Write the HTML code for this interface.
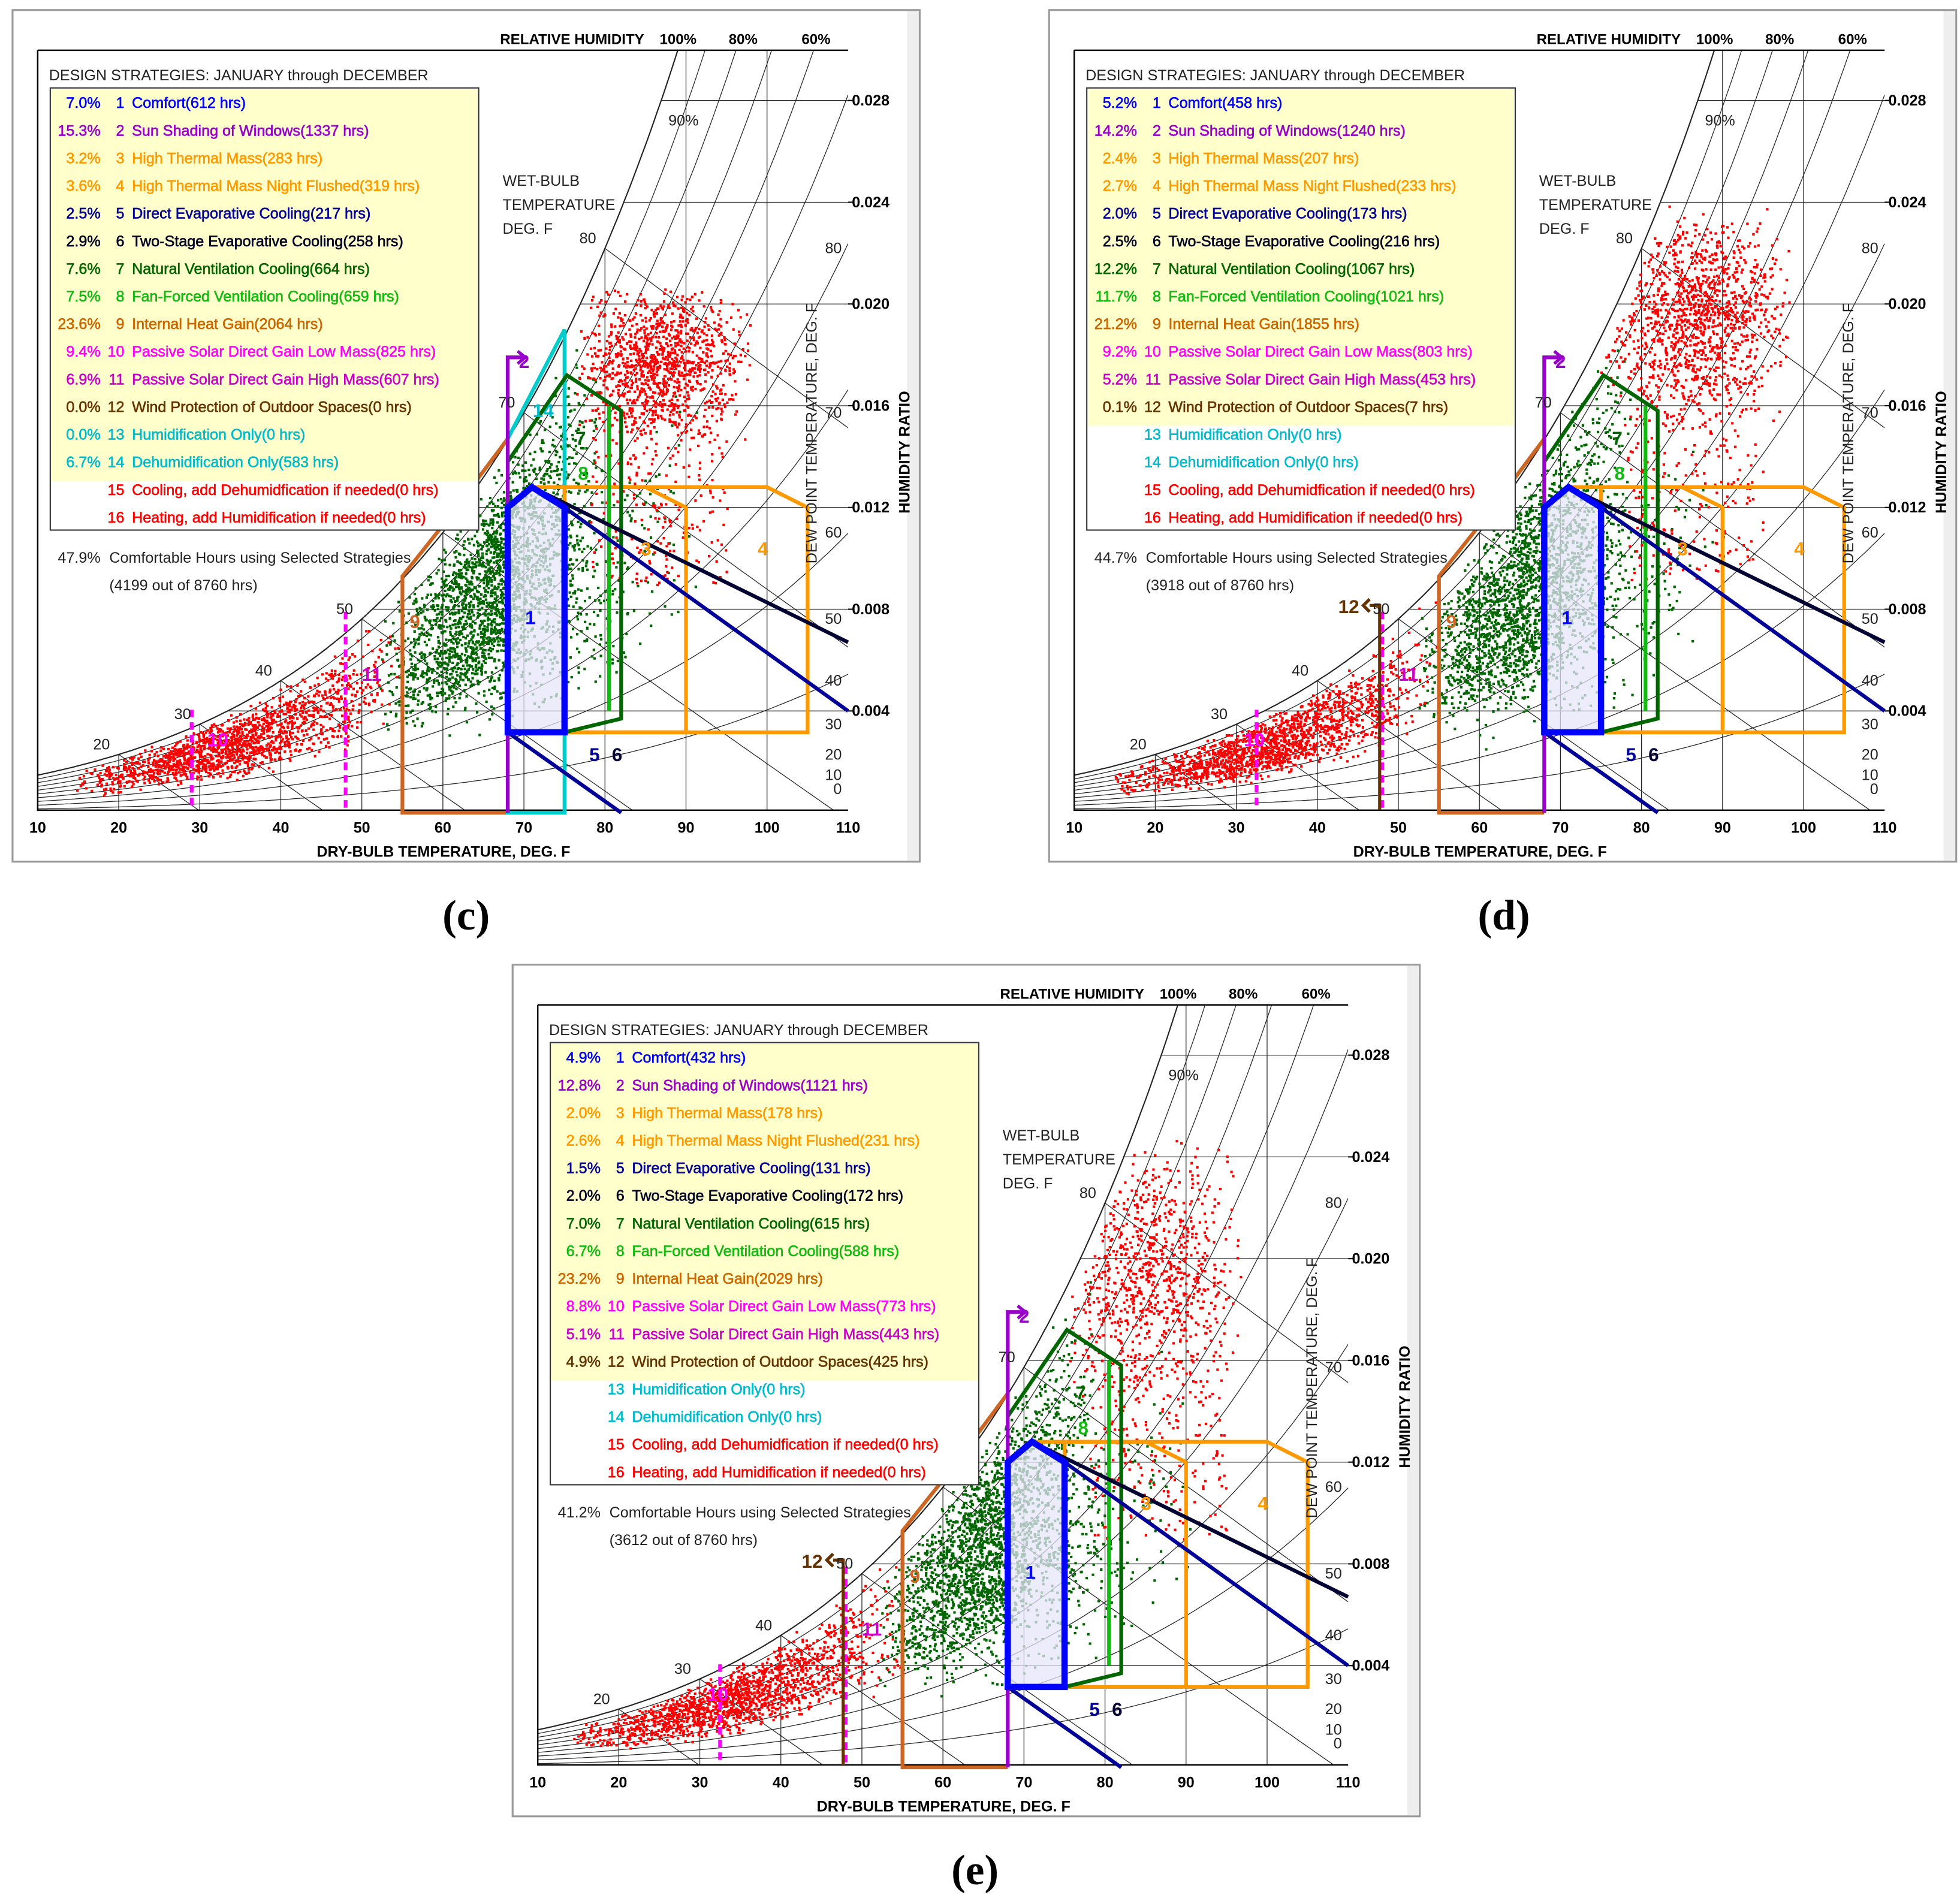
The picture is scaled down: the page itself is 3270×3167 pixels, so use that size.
<!DOCTYPE html>
<html><head><meta charset="utf-8"><title>Psychrometric design strategies</title>
<style>
html,body{margin:0;padding:0;background:#fff;}
svg{display:block;}
text{font-family:"Liberation Sans",Arial,sans-serif;}
</style></head>
<body>
<svg id="root" xmlns="http://www.w3.org/2000/svg" width="3270" height="3167" viewBox="0 0 1560 1511" preserveAspectRatio="none">
<rect x="0" y="0" width="1560" height="1511" fill="#fff"/>
</svg>
<script>
// ---------- data ----------
const strategyNames = ["Comfort","Sun Shading of Windows","High Thermal Mass","High Thermal Mass Night Flushed","Direct Evaporative Cooling","Two-Stage Evaporative Cooling","Natural Ventilation Cooling","Fan-Forced Ventilation Cooling","Internal Heat Gain","Passive Solar Direct Gain Low Mass","Passive Solar Direct Gain High Mass","Wind Protection of Outdoor Spaces","Humidification Only","Dehumidification Only","Cooling, add Dehumidfication if needed","Heating, add Humidification if needed"];
const strategyColors = ["#0000ff","#9900cc","#ff9900","#ff9900","#000099","#000022","#006600","#11bb11","#cc6600","#ff00ff","#cc00cc","#663300","#00bbcc","#00bbcc","#ff0000","#ff0000"];
const pctC = ["7.0%","15.3%","3.2%","3.6%","2.5%","2.9%","7.6%","7.5%","23.6%","9.4%","6.9%","0.0%","0.0%","6.7%","",""];
const hrsC = [612,1337,283,319,217,258,664,659,2064,825,607,0,0,583,0,0];
const pctD = ["5.2%","14.2%","2.4%","2.7%","2.0%","2.5%","12.2%","11.7%","21.2%","9.2%","5.2%","0.1%","","","",""];
const hrsD = [458,1240,207,233,173,216,1067,1021,1855,803,453,7,0,0,0,0];
const pctE = ["4.9%","12.8%","2.0%","2.6%","1.5%","2.0%","7.0%","6.7%","23.2%","8.8%","5.1%","4.9%","","","",""];
const hrsE = [432,1121,178,231,131,172,615,588,2029,773,443,425,0,0,0,0];
const summaryPct = ["47.9%","44.7%","41.2%"];
const summaryHrs = [4199,3918,3612];
const xTicks = [10,20,30,40,50,60,70,80,90,100,110];
const wTicks = [0.004,0.008,0.012,0.016,0.020,0.024,0.028];
const dewTicks = [0,10,20,30,40,50,60,70,80];
const wetBulbs = [20,30,40,50,60,70,80];
const rhCurves = [0.1,0.2,0.3,0.4,0.5,0.6,0.7,0.8,0.9];
// strategy outlines in (dry-bulb F, humidity ratio)
const comfortZone = [[68,0.00316],[68,0.0120],[71,0.0128],[75,0.0120],[75,0.00316]];
const thermalMass3 = [[71,0.0128],[85,0.0128],[90,0.0120],[90,0.00316],[75,0.00316]];
const thermalMass4 = [[75,0.0128],[100,0.0128],[105,0.0120],[105,0.00316],[75,0.00316]];
const natVent7 = [[68,0.0138],[75.3,0.0172],[82,0.0158],[82,0.0037],[75,0.00316]];
const fanVent8 = [[80.5,0.0160],[80.5,0.0040]];
const heatGain9 = [[68,0],[55,0],[55,0.0093],[60,0.0113],[68,0.0147]];
const shading2 = [[68,0],[68,0.0179],[70,0.0179]];
const dehum14 = [[68,0],[75,0],[75,0.0190],[68,0.0147]];
const evap6 = [[71,0.0128],[110,0.0067]];
const evap5 = [[75,0.0120],[110,0.0040]];
const evap5b = [[68,0.00316],[82,0]];
const solarLines = [[29,32.5,32.5],[48,48,48]];
// ---------- helpers ----------
const NS="http://www.w3.org/2000/svg";
const svg=document.getElementById('root');
function add(tag,attrs,parent){const e=document.createElementNS(NS,tag);for(const k in attrs)e.setAttribute(k,attrs[k]);parent.appendChild(e);return e;}
const X=T=>30+(T-10)*6.45;
const Y=W=>647-W*20250;
function ps(T){const c=(T-32)/1.8;return 0.61094*Math.exp(17.625*c/(c+243.04));}
function wAt(T,rh){const p=ps(T)*rh;return 0.622*p/(101.325-p);}
function wWB(T,twb){const ws=wAt(twb,1);return ((1093-0.556*twb)*ws-0.24*(T-twb))/(1093+0.444*T-twb);}
function pts(arr){return arr.map(p=>X(p[0]).toFixed(1)+','+Y(p[1]).toFixed(1)).join(' ');}
let seed=12345;
function rnd(){seed|=0;seed=seed+0x6D2B79F5|0;let t=Math.imul(seed^seed>>>15,1|seed);t=t+Math.imul(t^t>>>7,61|t)^t;return((t^t>>>14)>>>0)/4294967296;}
function tri(a,b){return a+(b-a)*(rnd()+rnd())/2;}
function uni(a,b){return a+(b-a)*rnd();}

const panels=[
 {dx:0,dy:0,pct:pctC,hrs:hrsC,yellowRows:14,cap:"(c)",capX:371,capY:745,cyan:true,wind:false,sol:0,
  clouds:[{n:1500,t:[14,55],rh:[0.3,1.0],c:'r'},{n:1100,t:[76,98],w:[0.0145,0.0210],c:'r'},{n:250,t:[78,95],w:[0.009,0.0160],c:'r',u:1},{n:2200,t:[52,80],rh:[0.3,1.0],c:'g'},{n:350,t:[58,92],rh:[0.18,0.65],c:'g'}]},
 {dx:825,dy:0,pct:pctD,hrs:hrsD,yellowRows:12,cap:"(d)",capX:1197,capY:745,cyan:false,wind:true,sol:1,
  clouds:[{n:1500,t:[14,55],rh:[0.3,1.0],c:'r'},{n:1300,t:[74,99],w:[0.0150,0.0240],c:'r'},{n:200,t:[78,95],w:[0.009,0.0160],c:'r',u:1},{n:2000,t:[52,79],rh:[0.3,1.0],c:'g'},{n:280,t:[58,90],rh:[0.18,0.65],c:'g'}]},
 {dx:398,dy:760,pct:pctE,hrs:hrsE,yellowRows:12,cap:"(e)",capX:776,capY:1505,cyan:false,wind:true,sol:2,
  clouds:[{n:1500,t:[14,55],rh:[0.3,1.0],c:'r'},{n:900,t:[74,97],w:[0.0140,0.0250],c:'r'},{n:200,t:[78,95],w:[0.009,0.0160],c:'r',u:1},{n:2100,t:[52,79],rh:[0.3,1.0],c:'g'},{n:330,t:[58,92],rh:[0.18,0.65],c:'g'}]}
];

panels.forEach((cfg,pi)=>{
 const g=add('g',{transform:`translate(${cfg.dx},${cfg.dy})`},svg);
 
 
 const fr=add('rect',{x:10,y:8,width:722,height:678,fill:'#fff',stroke:'#9a9a9a','stroke-width':1.5},g);
 
 
 const strip=add('rect',{x:722,y:9,width:9,height:676,fill:'#eeeeee'},g);
 
 
 const cid='clip'+pi;
 const cp=add('clipPath',{id:cid},g);add('rect',{x:30,y:40,width:645,height:605},cp);
 const grid=add('g',{'clip-path':`url(#${cid})`,stroke:'#222',fill:'none','stroke-width':0.6},g);
 
 
 xTicks.slice(1,-1).forEach(T=>{const l=add('line',{x1:X(T),y1:645,x2:X(T),y2:Y(wAt(T,1))},grid);
  
  });
 wTicks.forEach(W=>{let t=10;while(wAt(t,1)<W)t+=0.1;const l=add('line',{x1:X(t),y1:Y(W),x2:680,y2:Y(W)},grid);
  
  });
 rhCurves.forEach(rh=>{let d='';for(let T=10;T<=110;T+=0.5){const y=Y(wAt(T,rh));if(y<30)break;d+=(d?'L':'M')+X(T).toFixed(1)+','+y.toFixed(1);}
  const p=add('path',{d:d},grid);
  
  });
 wetBulbs.forEach(tw=>{let d='';for(let T=tw;T<=112;T+=0.5){const w=wWB(T,tw);if(w<-0.0002)break;d+=(d?'L':'M')+X(T).toFixed(1)+','+Y(w).toFixed(1);}
  const p=add('path',{d:d},grid);
  
  });
 let sd='';for(let T=10;T<=95;T+=0.5){const y=Y(wAt(T,1));sd+=(sd?'L':'M')+X(T).toFixed(1)+','+y.toFixed(1);if(y<30)break;}
 const sat=add('path',{d:sd,'stroke-width':1},grid);
 
 
 const ax=add('path',{d:'M30,40H675M30,40V645H675',stroke:'#000','stroke-width':1.2,fill:'none'},g);
 
 
 // scatter
 let dr='',dg='';
 cfg.clouds.forEach(c=>{for(let i=0;i<c.n;i++){const T=c.u?uni(c.t[0],c.t[1]):tri(c.t[0],c.t[1]);let W;
   if(c.rh){W=wAt(T,uni(c.rh[0],c.rh[1])*0.6+tri(c.rh[0],c.rh[1])*0.4);if(W>wAt(T,1))W=wAt(T,0.99);}
   else{W=c.u?uni(c.w[0],c.w[1]):tri(c.w[0],c.w[1]);if(W>wAt(T,0.97))continue;}
   const x=X(T),y=Y(W);if(x<31||x>674||y<41||y>644)continue;
   const s='M'+x.toFixed(1)+' '+y.toFixed(1)+'h2v2h-2z';
   if(c.c==='r')dr+=s;else dg+=s;}});
 const sg=add('path',{d:dg,fill:'#006600'},g);
 
 
 const sr=add('path',{d:dr,fill:'#ff0000'},g);
 
 
 const cf=add('polygon',{points:pts(comfortZone),fill:'#e6e6fa','fill-opacity':0.75,stroke:'none'},g);
 
 
 function shape(arr,col,w,closed){return add(closed?'polygon':'polyline',{points:pts(arr),fill:'none',stroke:col,'stroke-width':w,'stroke-linejoin':'miter'},g);}
 let e;
 e=shape(heatGain9,'#cc6622',3,false);
 
 
 if(cfg.cyan){e=shape(dehum14,'#00cccc',3,true);
 
 }
 e=shape(thermalMass4,'#ff9900',3,true);
 
 
 e=shape(thermalMass3,'#ff9900',3,false);
 
 
 e=shape(natVent7,'#006600',3,false);
 
 
 e=shape(fanVent8,'#11bb11',3,false);
 
 
 e=shape(evap6,'#000033',3,false);
 
 
 e=shape(evap5,'#000099',3,false);
 
 
 e=shape(evap5b,'#000099',3,false);
 
 
 e=shape(shading2,'#9900cc',3,false);
 
 
 e=add('path',{d:`M${X(70)-5},${Y(0.0179)-5}L${X(70)+1},${Y(0.0179)}L${X(70)-5},${Y(0.0179)+5}`,stroke:'#9900cc','stroke-width':2.5,fill:'none'},g);
 
 
 e=shape(comfortZone,'#0000ff',5,true);
 
 
 [0,1].forEach(k=>{const T=solarLines[k][cfg.sol];const top=k===0?565:487;
  const l=add('line',{x1:X(T),y1:top,x2:X(T),y2:645,stroke:'#ff00ff','stroke-width':3,'stroke-dasharray':'6,4'},g);
  
  });
 if(cfg.wind){const x=X(48)-2;
  const l=add('path',{d:`M${x},645V482H${x-8}M${x-8},477l-5,5l5,5`,stroke:'#663300','stroke-width':2.5,fill:'none'},g);
  
  
  const t=add('text',{x:x-33,y:488,fill:'#663300','font-size':15,'font-weight':'bold'},g);t.textContent='12';
  
  }
 const zl=[['1',418,497,'#0000ff'],['2',413,293,'#9900cc'],['3',510,442,'#ff9900'],['4',603,442,'#ff9900'],['5',469,606,'#000099'],['6',487,606,'#000033'],['7',458,354,'#006600'],['8',460,382,'#11bb11'],['9',326,500,'#cc6622'],['10',165,594,'#ff00ff'],['11',288,542,'#cc00cc']];
 if(cfg.cyan)zl.push(['14',424,332,'#00bbcc']);
 zl.forEach(z=>{const t=add('text',{x:z[1],y:z[2],fill:z[3],'font-size':15,'font-weight':'bold'},g);t.textContent=z[0];
  
  });
 xTicks.forEach(T=>{const t=add('text',{x:X(T),y:663,'font-size':12,'text-anchor':'middle',fill:'#000','font-weight':'bold'},g);t.textContent=T;
  
  });
 wTicks.forEach(W=>{const t=add('text',{x:678,y:Y(W)+4,'font-size':12,fill:'#000','font-weight':'bold'},g);t.textContent=W.toFixed(3);
  
  
  const tk=add('line',{x1:675,y1:Y(W),x2:680,y2:Y(W),stroke:'#000'},g);
  
  });
 dewTicks.forEach(d=>{const t=add('text',{x:670,y:Y(wAt(d,1))+4,'font-size':12,fill:'#222','text-anchor':'end'},g);t.textContent=d;
  
  });
 wetBulbs.forEach(tw=>{const t=add('text',{x:X(tw)-7,y:Y(wAt(tw,1))-4,'font-size':12,fill:'#222','text-anchor':'end'},g);t.textContent=tw;
  
  });
 const texts=[
  ['RELATIVE HUMIDITY',398,35,11.5,'bold','#000','start','relative-humidity-title'],
  ['100%',525,35,11.5,'bold','#000','start','rh-100-label'],
  ['80%',580,35,11.5,'bold','#000','start','rh-80-label'],
  ['60%',638,35,11.5,'bold','#000','start','rh-60-label'],
  ['90%',532,100,12,'normal','#222','start','rh-90-label'],
  ['WET-BULB',400,148,12,'normal','#222','start','wet-bulb-title'],
  ['TEMPERATURE',400,167,12,'normal','#222','start','wet-bulb-title'],
  ['DEG. F',400,186,12,'normal','#222','start','wet-bulb-title'],
  ['DESIGN STRATEGIES:  JANUARY through DECEMBER',39,64,12,'normal','#222','start','legend-title'],
  ['DRY-BULB TEMPERATURE, DEG. F',353,682,12,'bold','#000','middle','x-axis-title'],
  [summaryPct[pi],80,448,12,'normal','#222','end','summary-percent'],
  ['Comfortable Hours using Selected Strategies',87,448,12,'normal','#222','start','summary-label'],
  ['('+summaryHrs[pi]+' out of 8760 hrs)',87,470,12,'normal','#222','start','summary-hours']];
 texts.forEach(s=>{const t=add('text',{x:s[1],y:s[2],'font-size':s[3],'font-weight':s[4],fill:s[5],'text-anchor':s[6]},g);t.textContent=s[0];
  
  });
 let t=add('text',{transform:'translate(724,360) rotate(-90)','font-size':12,'font-weight':'bold','text-anchor':'middle',fill:'#000'},g);t.textContent='HUMIDITY RATIO';
 
 
 t=add('text',{transform:'translate(650,345) rotate(-90)','font-size':12,'text-anchor':'middle',fill:'#222'},g);t.textContent='DEW POINT TEMPERATURE, DEG. F';
 
 
 const lb=add('rect',{x:40,y:70,width:341,height:352,fill:'#fff',stroke:'#333','stroke-width':1},g);
 
 
 const yb=add('rect',{x:41,y:71,width:339,height:cfg.yellowRows*22+4,fill:'#ffffcc'},g);
 
 
 strategyNames.forEach((nm,i)=>{const y=86+22*i,col=strategyColors[i];
  const row=add('g',{fill:col,'font-size':12,stroke:col,'stroke-width':0.3},g);
  
  
  const a=add('text',{x:80,y:y,'text-anchor':'end'},row);a.textContent=cfg.pct[i];
  const b=add('text',{x:99,y:y,'text-anchor':'end'},row);b.textContent=String(i+1);
  const c=add('text',{x:105,y:y},row);c.textContent=nm+'('+cfg.hrs[i]+' hrs)';});
 const cap=add('text',{x:cfg.capX,y:cfg.capY-5,'font-size':34,'font-weight':'bold','text-anchor':'middle',fill:'#000'},svg);
 cap.setAttribute('style','font-family:"Liberation Serif",serif');
 cap.textContent=cfg.cap;
 
 
});
</script>
</body></html>
